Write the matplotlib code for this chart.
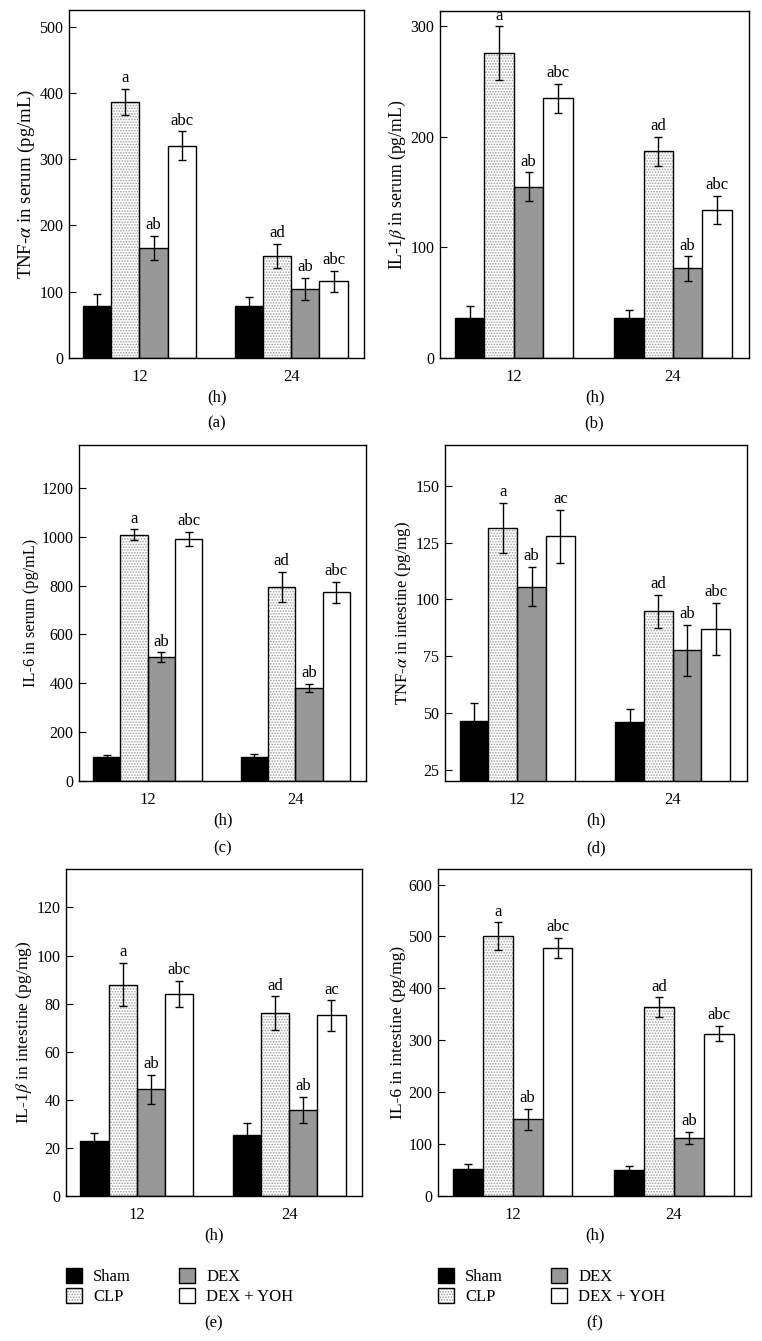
import matplotlib
matplotlib.use("Agg")
import matplotlib.pyplot as plt
from matplotlib.patches import Patch
import numpy as np

plt.rcParams['font.family'] = ['Liberation Serif', 'DejaVu Serif']
plt.rcParams['mathtext.fontset'] = 'stix'
plt.rcParams['hatch.linewidth'] = 0.8

groups = ["12", "24"]
series = ["Sham", "CLP", "DEX", "DEX + YOH"]

# values: [series][group]
tnf_serum = [[78, 78], [386, 154], [166, 104], [320, 116]]
tnf_serum_err = [[18, 14], [20, 18], [18, 17], [22, 16]]
il1_serum = [[36, 36], [276, 187], [155, 81], [235, 134]]
il1_serum_err = [[11, 7], [24, 13], [13, 11], [13, 13]]
il6_serum = [[97, 97], [1008, 794], [507, 381], [990, 772]]
il6_serum_err = [[9, 13], [22, 62], [20, 17], [30, 44]]
tnf_int = [[46.4, 45.8], [131.5, 94.8], [105.6, 77.6], [127.7, 87.1]]
tnf_int_err = [[8, 6], [11, 7.3], [8.6, 11.3], [11.6, 11.5]]
il1_int = [[22.8, 25.3], [87.9, 76.1], [44.4, 35.7], [84.2, 75.1]]
il1_int_err = [[3.5, 5], [9, 7], [6, 5.5], [5.4, 6.3]]
il6_int = [[52.7, 51], [500, 364], [148, 112], [478, 313]]
il6_int_err = [[8, 7], [27, 19], [20, 12], [20, 15]]

letters_std = [["", ""], ["a", "ad"], ["ab", "ab"], ["abc", "abc"]]
letters_d = [["", ""], ["a", "ad"], ["ab", "ab"], ["ac", "abc"]]
letters_e = [["", ""], ["a", "ad"], ["ab", "ab"], ["abc", "ac"]]

panels = [
    dict(vals=tnf_serum, err=tnf_serum_err, letters=letters_std,
         ylabel=r'TNF-$\alpha$ in serum (pg/mL)', ylim=(0, 525),
         ticks=[0, 100, 200, 300, 400, 500], tag='(a)', yls=13.5,
         box=(69, 364, 10, 358)),
    dict(vals=il1_serum, err=il1_serum_err, letters=letters_std,
         ylabel=r'IL-1$\beta$ in serum (pg/mL)', ylim=(0, 314),
         ticks=[0, 100, 200, 300], tag='(b)', yls=12.7,
         box=(440, 749, 11, 358)),
    dict(vals=il6_serum, err=il6_serum_err, letters=letters_std,
         ylabel='IL-6 in serum (pg/mL)', ylim=(0, 1375),
         ticks=[0, 200, 400, 600, 800, 1000, 1200], tag='(c)', yls=11.7,
         box=(79, 366, 445, 781)),
    dict(vals=tnf_int, err=tnf_int_err, letters=letters_d,
         ylabel=r'TNF-$\alpha$ in intestine (pg/mg)', ylim=(20, 168),
         ticks=[25, 50, 75, 100, 125, 150], tag='(d)', yls=12.1,
         box=(445, 747, 445, 781)),
    dict(vals=il1_int, err=il1_int_err, letters=letters_e,
         ylabel=r'IL-1$\beta$ in intestine (pg/mg)', ylim=(0, 136),
         ticks=[0, 20, 40, 60, 80, 100, 120], tag='(e)', yls=12.6,
         box=(66, 362, 869, 1196)),
    dict(vals=il6_int, err=il6_int_err, letters=letters_std,
         ylabel='IL-6 in intestine (pg/mg)', ylim=(0, 630),
         ticks=[0, 100, 200, 300, 400, 500, 600], tag='(f)', yls=12.6,
         box=(438, 751, 869, 1196)),
]

W, H = 762, 1341
fig = plt.figure(figsize=(W / 100, H / 100), dpi=100)

bar_w = 0.185
x = np.arange(len(groups))
offsets = [-1.5, -0.5, 0.5, 1.5]
HATCH_GRAY = '#a0a0a0'
DEX_GRAY = '#989898'

for p in panels:
    l, r, t, b = p['box']
    ax = fig.add_axes([l / W, 1 - b / H, (r - l) / W, (b - t) / H])
    for si in range(4):
        xs = x + offsets[si] * bar_w
        vals = p['vals'][si]
        errs = p['err'][si]
        if si == 0:
            ax.bar(xs, vals, bar_w, color='black', edgecolor='black', lw=1.0, zorder=2)
        elif si == 1:
            ax.bar(xs, vals, bar_w, color='white', edgecolor=HATCH_GRAY, hatch='......', lw=0, zorder=2)
            ax.bar(xs, vals, bar_w, color='none', edgecolor='black', lw=1.0, zorder=3)
        elif si == 2:
            ax.bar(xs, vals, bar_w, color=DEX_GRAY, edgecolor='black', lw=1.0, zorder=2)
        else:
            ax.bar(xs, vals, bar_w, color='white', edgecolor='black', lw=1.0, zorder=2)
        ax.errorbar(xs, vals, yerr=errs, fmt='none', ecolor='black', elinewidth=1.0,
                    capsize=3, capthick=1.0, zorder=4)
        span = p['ylim'][1] - p['ylim'][0]
        for xi, v, e, s in zip(xs, vals, errs, p['letters'][si]):
            if s:
                ax.text(xi, v + e + span * 0.008, s, ha='center', va='bottom', fontsize=12)
    ax.set_xlim(-0.464, 1.478)
    ax.set_ylim(*p['ylim'])
    ax.set_yticks(p['ticks'])
    ax.set_xticks(x)
    ax.set_xticklabels(groups)
    ax.tick_params(axis='y', direction='in', length=5, width=0.8, labelsize=11.5, pad=4)
    ax.tick_params(axis='x', length=0, labelsize=12, pad=8)
    ax.set_xlabel('(h)', fontsize=12, labelpad=3)
    ax.set_ylabel(p['ylabel'], fontsize=p['yls'], labelpad=2)
    for sp in ax.spines.values():
        sp.set_linewidth(1.0)
    p['ax'] = ax

# panel tags
tag_y = {'(a)': 423, '(b)': 423, '(c)': 848, '(d)': 848, '(e)': 1323, '(f)': 1323}
for p in panels:
    l, r, t, b = p['box']
    fig.text((l + r) / 2 / W, 1 - tag_y[p['tag']] / H, p['tag'], ha='center', va='center', fontsize=12)

# legends below (e) and (f)
handles = [
    Patch(facecolor='black', edgecolor='black'),
    (Patch(facecolor='white', edgecolor=HATCH_GRAY, hatch='......', lw=0),
     Patch(facecolor='none', edgecolor='black')),
    Patch(facecolor=DEX_GRAY, edgecolor='black'),
    Patch(facecolor='white', edgecolor='black'),
]
for p, lx in ((panels[4], 59), (panels[5], 431)):
    fig.legend(handles, series, ncol=2, loc='upper left',
               bbox_to_anchor=(lx / W, 1 - 1261 / H), frameon=False, fontsize=12,
               handlelength=1.0, handleheight=1.0, handletextpad=0.65,
               columnspacing=2.85, labelspacing=0.2, borderaxespad=0)

fig.savefig('out.png', dpi=100)
